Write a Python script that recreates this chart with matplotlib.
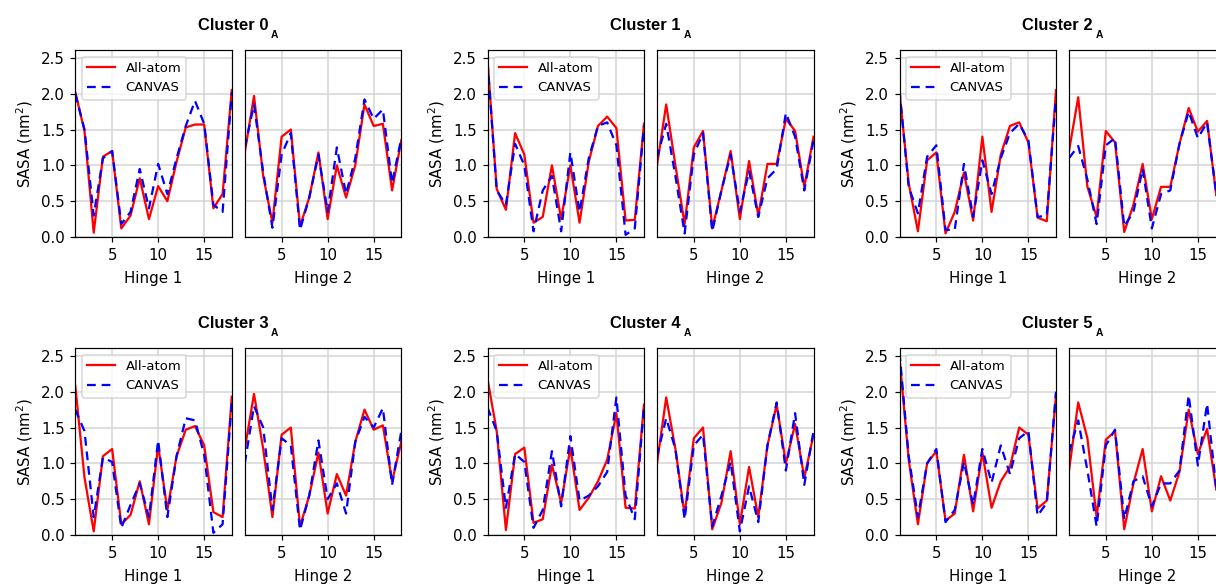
import matplotlib
matplotlib.use("Agg")
import matplotlib.pyplot as plt
import numpy as np

residues = list(range(1, 19))
cluster_names = ["0", "1", "2", "3", "4", "5"]
x_ticks = [5, 10, 15]
y_ticks = [0.0, 0.5, 1.0, 1.5, 2.0, 2.5]

# SASA per residue (nm^2): all-atom reference and CANVAS model, for each hinge
allatom_h1 = [
    [2.02, 1.48, 0.06, 1.12, 1.20, 0.12, 0.30, 0.82, 0.25, 0.71, 0.50, 1.05, 1.53, 1.57, 1.57, 0.40, 0.60, 2.05],
    [2.48, 0.67, 0.38, 1.45, 1.15, 0.20, 0.28, 1.00, 0.25, 1.00, 0.20, 1.05, 1.55, 1.68, 1.52, 0.23, 0.24, 1.58],
    [2.02, 0.75, 0.08, 1.07, 1.18, 0.05, 0.35, 0.90, 0.23, 1.40, 0.35, 1.15, 1.55, 1.60, 1.32, 0.27, 0.22, 2.05],
    [2.08, 0.80, 0.05, 1.10, 1.20, 0.15, 0.28, 0.75, 0.15, 1.25, 0.35, 1.10, 1.47, 1.52, 1.25, 0.32, 0.25, 1.93],
    [2.18, 1.45, 0.07, 1.13, 1.22, 0.17, 0.22, 0.98, 0.45, 1.22, 0.35, 0.52, 0.75, 1.05, 1.70, 0.38, 0.37, 1.82],
    [2.48, 1.05, 0.15, 1.00, 1.17, 0.20, 0.30, 1.12, 0.33, 1.15, 0.38, 0.75, 0.95, 1.50, 1.40, 0.37, 0.48, 1.95],
]
canvas_h1 = [
    [2.00, 1.50, 0.30, 1.10, 1.20, 0.18, 0.35, 0.95, 0.40, 1.02, 0.60, 1.10, 1.55, 1.90, 1.58, 0.45, 0.35, 2.02],
    [2.45, 0.65, 0.45, 1.30, 1.00, 0.08, 0.65, 0.85, 0.08, 1.18, 0.35, 1.10, 1.55, 1.60, 1.28, 0.03, 0.12, 1.55],
    [2.05, 0.70, 0.33, 1.12, 1.28, 0.10, 0.10, 1.02, 0.28, 1.07, 0.60, 1.10, 1.45, 1.58, 1.35, 0.28, 0.30, 1.95],
    [1.75, 1.45, 0.25, 1.08, 1.02, 0.10, 0.42, 0.72, 0.25, 1.32, 0.25, 1.10, 1.63, 1.60, 1.12, 0.03, 0.15, 1.85],
    [1.78, 1.45, 0.38, 1.13, 1.02, 0.10, 0.35, 1.17, 0.40, 1.38, 0.48, 0.55, 0.68, 0.88, 1.92, 0.55, 0.22, 1.80],
    [2.55, 1.10, 0.25, 1.00, 1.20, 0.18, 0.35, 1.02, 0.42, 1.20, 0.73, 1.25, 0.85, 1.35, 1.45, 0.27, 0.45, 2.00],
]
allatom_h2 = [
    [1.18, 1.97, 0.85, 0.20, 1.40, 1.50, 0.15, 0.55, 1.18, 0.25, 1.00, 0.55, 1.00, 1.85, 1.55, 1.58, 0.65, 1.35],
    [1.00, 1.85, 1.00, 0.18, 1.25, 1.48, 0.12, 0.65, 1.20, 0.25, 1.06, 0.30, 1.02, 1.02, 1.65, 1.48, 0.70, 1.40],
    [1.20, 1.95, 0.70, 0.28, 1.48, 1.32, 0.07, 0.45, 1.02, 0.25, 0.70, 0.70, 1.30, 1.80, 1.47, 1.62, 0.58, 1.30],
    [1.20, 1.97, 1.20, 0.25, 1.40, 1.50, 0.12, 0.55, 1.15, 0.30, 0.85, 0.55, 1.30, 1.75, 1.47, 1.53, 0.75, 1.30],
    [1.00, 1.92, 1.20, 0.28, 1.35, 1.50, 0.08, 0.45, 1.17, 0.15, 0.95, 0.25, 1.25, 1.82, 1.00, 1.55, 0.80, 1.40],
    [0.90, 1.85, 1.35, 0.25, 1.33, 1.45, 0.08, 0.72, 1.20, 0.33, 0.82, 0.48, 0.88, 1.75, 1.13, 1.48, 0.63, 1.30],
]
canvas_h2 = [
    [1.25, 1.85, 0.90, 0.13, 1.15, 1.45, 0.10, 0.55, 1.15, 0.35, 1.25, 0.60, 1.10, 1.92, 1.65, 1.78, 0.75, 1.38],
    [1.10, 1.58, 0.85, 0.05, 1.15, 1.45, 0.08, 0.65, 1.15, 0.35, 0.92, 0.28, 0.82, 0.95, 1.73, 1.40, 0.65, 1.35],
    [1.10, 1.27, 0.80, 0.18, 1.28, 1.38, 0.15, 0.35, 0.95, 0.12, 0.60, 0.65, 1.30, 1.75, 1.38, 1.60, 0.60, 1.30],
    [1.00, 1.80, 1.50, 0.35, 1.35, 1.25, 0.07, 0.55, 1.32, 0.50, 0.72, 0.30, 1.30, 1.65, 1.50, 1.77, 0.70, 1.45],
    [1.10, 1.63, 1.20, 0.22, 1.25, 1.40, 0.12, 0.55, 1.02, 0.05, 0.68, 0.18, 1.25, 1.85, 0.90, 1.70, 0.70, 1.45],
    [1.15, 1.60, 0.90, 0.12, 1.25, 1.47, 0.22, 0.75, 0.82, 0.40, 0.72, 0.72, 0.90, 1.95, 0.97, 1.83, 0.65, 1.30],
]

DPI = 108
W, H = 1216, 584
fig = plt.figure(figsize=(W / DPI, H / DPI), dpi=DPI)
renderer = fig.canvas.get_renderer()

# pixel layout of the panel grid
col_left = [75.3, 487.5, 899.5]
panel_w = 156.5
pair_gap = 13.0
row_top = [50.0, 348.0]
panel_h = 187.0

DASH = (0, (3.9, 2.6))
TITLE_FONT = dict(family="Liberation Sans", fontweight="bold")


def add_panel(left_px, top_px):
    return fig.add_axes([left_px / W, 1 - (top_px + panel_h) / H, panel_w / W, panel_h / H])


def style(ax, xlabel):
    ax.set_xlim(1, 18)
    ax.set_ylim(0, 2.61)
    ax.set_xticks(x_ticks)
    ax.set_yticks(y_ticks)
    ax.grid(True, color="#d4d4d4", linewidth=1.0)
    ax.set_axisbelow(True)
    ax.set_xlabel(xlabel, fontsize=10, labelpad=5.5)
    ax.tick_params(labelsize=10)


def pair_title(center_px, baseline_px, name):
    """Bold 'Cluster N' with a small subscript A, centred over a panel pair."""
    main = fig.text(0, 1 - baseline_px / H, "Cluster " + name, ha="left", va="baseline",
                    fontsize=11, **TITLE_FONT)
    sub = fig.text(0, 1 - (baseline_px + 8.0) / H, "A", ha="left", va="baseline",
                   fontsize=6.8, **TITLE_FONT)
    w_main = main.get_window_extent(renderer).width
    w_sub = sub.get_window_extent(renderer).width
    gap = 2.5
    x0 = center_px - (w_main + gap + w_sub) / 2
    main.set_x(x0 / W)
    sub.set_x((x0 + w_main + gap) / W)


for k, name in enumerate(cluster_names):
    r, c = divmod(k, 3)
    lx = col_left[c]
    ty = row_top[r]
    ax1 = add_panel(lx, ty)
    ax2 = add_panel(lx + panel_w + pair_gap, ty)

    ax1.plot(residues, allatom_h1[k], color="red", lw=1.5, label="All-atom")
    ax1.plot(residues, canvas_h1[k], color="blue", lw=1.5, ls=DASH, label="CANVAS")
    ax2.plot(residues, allatom_h2[k], color="red", lw=1.5)
    ax2.plot(residues, canvas_h2[k], color="blue", lw=1.5, ls=DASH)

    style(ax1, "Hinge 1")
    style(ax2, "Hinge 2")
    ax1.set_ylabel("SASA (nm$^2$)", fontsize=10)
    ax2.tick_params(left=False, labelleft=False)

    ax1.legend(loc="upper left", fontsize=8.8, handlelength=2.1, framealpha=0.8)

    pair_title(lx + panel_w + pair_gap / 2, ty - 20.0, name)

fig.savefig("out.png", dpi=DPI)
